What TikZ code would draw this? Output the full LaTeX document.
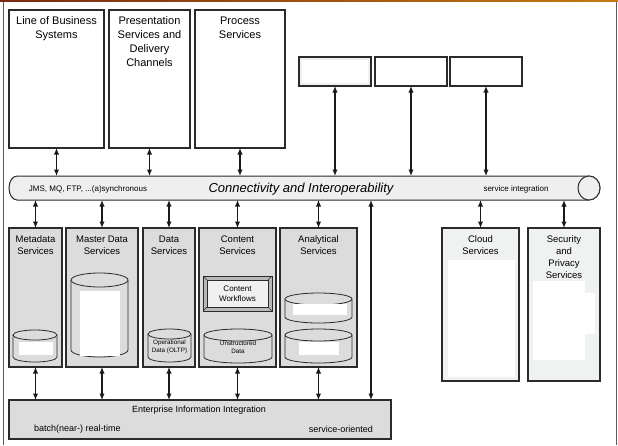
\documentclass[tikz,border=0pt]{standalone}
\usepackage{fontspec}
\setmainfont{Liberation Sans}
\usetikzlibrary{arrows.meta,calc}
\definecolor{bord}{HTML}{2B2B2B}
\definecolor{midgray}{HTML}{DCDCDC}
\definecolor{lightgray}{HTML}{F0F1F1}
\definecolor{pipegray}{HTML}{EFEFEF}
\definecolor{framegray}{HTML}{5A5A5A}
\definecolor{brownA}{HTML}{7A2A12}
\definecolor{brownB}{HTML}{C47A10}
\newcommand\mycyl[5]{%
  \pgfmathsetmacro\crx{(#2-#1)/2}%
  \pgfmathsetmacro\ccx{(#1+#2)/2}%
  \filldraw[cylst] (#1,#3+#5) -- (#1,#4-#5)
    arc[start angle=180,end angle=360,x radius=\crx pt,y radius=#5pt]
    -- (#2,#3+#5)
    arc[start angle=0,end angle=180,x radius=\crx pt,y radius=#5pt] -- cycle;
  \draw[cylst] (#1,#3+#5) arc[start angle=180,end angle=360,x radius=\crx pt,y radius=#5pt];
}
\begin{document}
\begin{tikzpicture}[x=1pt,y=-1pt,
  box/.style={draw=bord,line width=1.2pt,anchor=north west,inner sep=0pt,outer sep=0pt},
  topbox/.style={box,fill=white},
  graybox/.style={box,fill=midgray},
  lightbox/.style={box,fill=lightgray},
  cylst/.style={draw=bord,line width=0.8pt,fill=midgray},
  dbl/.style={{Latex[length=6.5pt,width=5.5pt]}-{Latex[length=6.5pt,width=5.5pt]},line width=1.6pt,draw=black!90},
  ttl/.style={font=\fontsize{11}{13.8}\selectfont,align=center,inner sep=0pt,anchor=north},
  sttl/.style={font=\fontsize{9.5}{12}\selectfont,align=center,inner sep=0pt,anchor=north},
  tiny/.style={font=\fontsize{6.3}{8}\selectfont,align=center,inner sep=0pt},
  wpatch/.style={fill=white,draw=none}]
\useasboundingbox (0,0) rectangle (618,445);
\fill[white] (0,0) rectangle (618,445);
% frame
\shade[left color=brownA,right color=brownB] (0,0) rectangle (618,1.6);
\draw[framegray,line width=1pt] (3,1.6) -- (3,445);
\draw[framegray,line width=1pt] (616.5,1.6) -- (616.5,445);

% top boxes
\node[topbox,minimum width=95pt,minimum height=138pt] (lob) at (9,10) {};
\node[topbox,minimum width=81pt,minimum height=138pt] (pres) at (109,10) {};
\node[topbox,minimum width=90pt,minimum height=138pt] (proc) at (195,10) {};
\node[ttl] (lobT) at (56.5,16.5) {Line of Business\\Systems};
\node[ttl] (presT) at (149.5,16.5) {Presentation\\Services and\\Delivery\\Channels};
\node[ttl] (procT) at (240,16.5) {Process\\Services};

\node[box,fill=gray!12,minimum width=72pt,minimum height=29pt] (e1) at (299,57) {};
\fill[white] (302,60) rectangle (368,83);
\node[topbox,minimum width=72pt,minimum height=29pt] (e2) at (375,57) {};
\node[topbox,minimum width=72pt,minimum height=29pt] (e3) at (450,57) {};

% pipe
\node[anchor=north west,minimum width=591pt,minimum height=24pt,inner sep=0pt,outer sep=0pt] (pipe) at (9,176) {};
\filldraw[draw=bord,line width=1pt,fill=pipegray] ([xshift=8pt]pipe.north west) -- ([xshift=-11pt]pipe.north east)
  arc[start angle=90,end angle=-90,x radius=11pt,y radius=12pt]
  -- ([xshift=8pt]pipe.south west)
  arc[start angle=270,end angle=90,x radius=8pt,y radius=12pt] -- cycle;
\filldraw[draw=bord,line width=1pt,fill=pipegray] ([xshift=-11pt]pipe.east) ellipse[x radius=11pt,y radius=12pt];
\node[font=\fontsize{8}{9.5}\selectfont,inner sep=0pt] (jms) at (88,189) {JMS, MQ, FTP, ...(a)synchronous};
\node[font=\fontsize{13}{15}\selectfont\itshape,inner sep=0pt] (conn) at (301,189) {Connectivity and Interoperability};
\node[font=\fontsize{8}{9.5}\selectfont,inner sep=0pt] (sint) at (516,189) {service integration};

% lower boxes
\node[graybox,minimum width=53pt,minimum height=139pt] (meta) at (9,228) {};
\node[graybox,minimum width=72pt,minimum height=139pt] (mdm) at (66,228) {};
\node[graybox,minimum width=52pt,minimum height=139pt] (data) at (143,228) {};
\node[graybox,minimum width=77pt,minimum height=139pt] (cont) at (199,228) {};
\node[graybox,minimum width=77pt,minimum height=139pt] (anal) at (280,228) {};
\node[lightbox,minimum width=77pt,minimum height=153pt] (cloud) at (442,228) {};
\node[lightbox,minimum width=72pt,minimum height=153pt] (sec) at (528,228) {};

\node[sttl] (metaT) at (35.5,235.5) {Metadata\\Services};
\node[sttl] (mdmT) at (102,235.5) {Master Data\\Services};
\node[sttl] (dataT) at (169,235.5) {Data\\Services};
\node[sttl] (contT) at (237.5,235.5) {Content\\Services};
\node[sttl] (analT) at (318.5,235.5) {Analytical\\Services};
\node[sttl] (cloudT) at (480.5,235) {Cloud\\Services};
\node[sttl] (secT) at (564,235) {Security\\and\\Privacy\\Services};

% white patches in cloud / security
\fill[wpatch] (448,260) rectangle (515,377);
\fill[wpatch] (533,281) rectangle (585,360);
\fill[wpatch] (533,293) rectangle (595,334);

% cylinders
\mycyl{13}{57}{330}{362}{5}
\fill[wpatch] (19,342) rectangle (53,355);
\mycyl{71}{128}{273}{357}{7}
\fill[wpatch] (80,291) rectangle (120,356);
\mycyl{148}{191}{329}{362}{5}
\node[tiny] (oltp) at (169.5,347) {Operational\\Data (OLTP)};
\mycyl{204}{272}{329}{363}{6}
\node[tiny] (unstr) at (238,347) {Unstructured\\Data};
\mycyl{285}{352}{293}{323}{6}
\fill[wpatch] (293,304) rectangle (347,315);
\mycyl{285}{352}{329}{363}{6}
\fill[wpatch] (299,342) rectangle (339,355);

% content workflows beveled box
\filldraw[draw=bord,line width=0.9pt,fill=gray!55] (203,276) rectangle (272,311);
\filldraw[draw=bord,line width=0.6pt,fill=gray!12] (207,280) rectangle (268,307);
\draw[bord,line width=0.5pt] (203,276) -- (207,280) (272,276) -- (268,280) (203,311) -- (207,307) (272,311) -- (268,307);
\node[font=\fontsize{8}{10}\selectfont,align=center,inner sep=0pt] (cwf) at (237.5,293.5) {Content\\Workflows};

% EII
\node[graybox,minimum width=382pt,minimum height=39pt] (eii) at (9,400) {};
\node[font=\fontsize{9}{11}\selectfont,inner sep=0pt] (eiiT) at (199,410) {Enterprise Information Integration};
\node[font=\fontsize{9}{11}\selectfont,inner sep=0pt,anchor=west] (batch) at (34,429.5) {batch(near-) real-time};
\node[font=\fontsize{9}{11}\selectfont,inner sep=0pt,anchor=east] (soa) at (373,429.5) {service-oriented};

% connectors
\draw[dbl] (lob.south) -- (lob.south |- pipe.north);
\draw[dbl] (pres.south) -- (pres.south |- pipe.north);
\draw[dbl] (proc.south) -- (proc.south |- pipe.north);
\draw[dbl] (e1.south) -- (e1.south |- pipe.north);
\draw[dbl] (e2.south) -- (e2.south |- pipe.north);
\draw[dbl] (e3.south) -- (e3.south |- pipe.north);
\foreach \n in {meta,mdm,data,cont,anal,cloud,sec}{
  \draw[dbl] (pipe.south -| \n.north) -- (\n.north);
}
\foreach \n in {meta,mdm,data,cont,anal}{
  \draw[dbl] (\n.south) -- (eii.north -| \n.south);
}
\coordinate (lx) at (371,300);
\draw[dbl] (pipe.south -| lx) -- (eii.north -| lx);
\end{tikzpicture}
\end{document}
